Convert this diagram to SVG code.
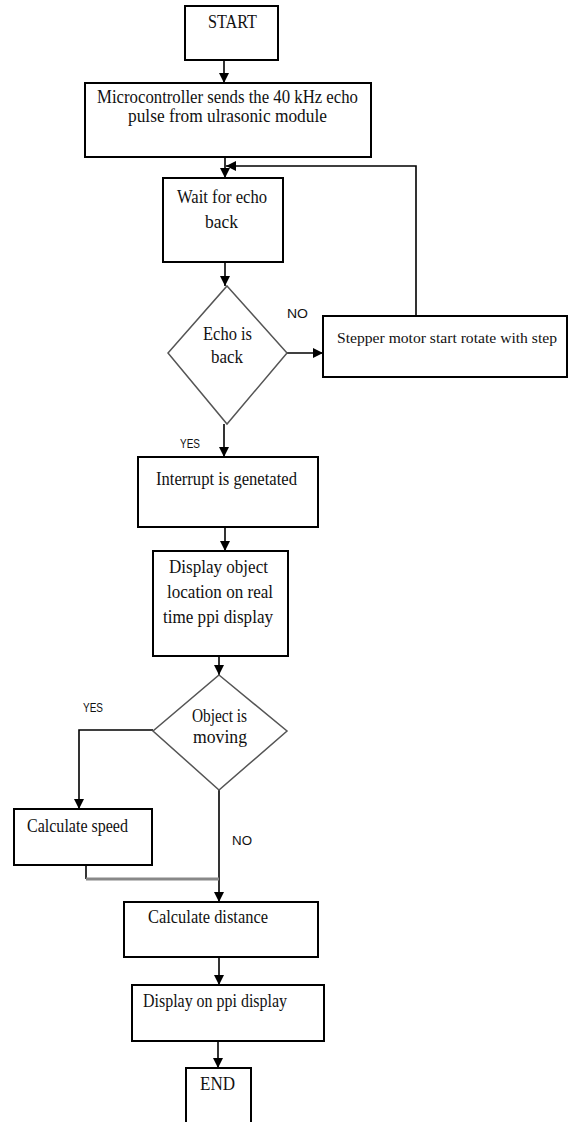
<svg xmlns="http://www.w3.org/2000/svg" width="569" height="1122" viewBox="0 0 569 1122">
<defs>
<style>
.box{fill:#fff;stroke:#000;stroke-width:2}
.dia{fill:#fff;stroke:#555;stroke-width:1.5}
.t{font-family:"Liberation Serif","Times New Roman",serif;font-size:18px;fill:#111}
.s{font-size:15px}
.l{font-family:"Liberation Sans",Arial,sans-serif;font-size:13px;fill:#111}
.c{fill:none;stroke:#000;stroke-width:1.6}
</style>
<marker id="ah" markerUnits="userSpaceOnUse" markerWidth="10" markerHeight="10" refX="10" refY="5" orient="auto" viewBox="0 0 10 10">
<path d="M0,0 L10,5 L0,10 z" fill="#000"/>
</marker>
</defs>
<rect width="569" height="1122" fill="#fff"/>
<g id="connectors">
<line class="c" x1="224" y1="60" x2="224" y2="83" marker-end="url(#ah)"/>
<line class="c" x1="225" y1="157" x2="225" y2="178" marker-end="url(#ah)"/>
<line class="c" x1="225" y1="262" x2="225" y2="286" marker-end="url(#ah)"/>
<line class="c" x1="287" y1="353" x2="323" y2="353" marker-end="url(#ah)"/>
<polyline class="c" points="416,316 416,166 226,166" marker-end="url(#ah)"/>
<line class="c" x1="224" y1="424" x2="224" y2="457" marker-end="url(#ah)"/>
<line class="c" x1="225" y1="527" x2="225" y2="551" marker-end="url(#ah)"/>
<line class="c" x1="219" y1="656" x2="219" y2="675" marker-end="url(#ah)"/>
<polyline class="c" points="153,730 79,730 79,809" marker-end="url(#ah)"/>
<line class="c" x1="219" y1="790" x2="219" y2="902" marker-end="url(#ah)"/>
<line class="c" x1="86" y1="865" x2="86" y2="879"/>
<line x1="86" y1="879" x2="219" y2="879" stroke="#888" stroke-width="3"/>
<line class="c" x1="219" y1="957" x2="219" y2="985" marker-end="url(#ah)"/>
<line class="c" x1="218" y1="1041" x2="218" y2="1068" marker-end="url(#ah)"/>
</g>
<g id="start">
<rect class="box" x="185" y="6" width="93" height="54"/>
<text class="t" x="208" y="28" textLength="49" lengthAdjust="spacingAndGlyphs">START</text>
</g>
<g id="send">
<rect class="box" x="85" y="83" width="286" height="74"/>
<text class="t" x="97" y="103" textLength="261" lengthAdjust="spacingAndGlyphs">Microcontroller sends the 40 kHz echo</text>
<text class="t" x="128" y="122" textLength="199" lengthAdjust="spacingAndGlyphs">pulse from ulrasonic module</text>
</g>
<g id="wait">
<rect class="box" x="163" y="178" width="120" height="84"/>
<text class="t" x="177" y="203" textLength="90" lengthAdjust="spacingAndGlyphs">Wait for echo</text>
<text class="t" x="205" y="228" textLength="33" lengthAdjust="spacingAndGlyphs">back</text>
</g>
<g id="echo">
<polygon class="dia" points="227,286 287,353 227,424 168,353"/>
<text class="t" x="203" y="340" textLength="49" lengthAdjust="spacingAndGlyphs">Echo is</text>
<text class="t" x="211" y="363" textLength="32" lengthAdjust="spacingAndGlyphs">back</text>
</g>
<g id="stepper">
<rect class="box" x="323" y="316" width="244" height="61"/>
<text class="t s" x="337" y="343" textLength="220" lengthAdjust="spacingAndGlyphs">Stepper motor start rotate with step</text>
</g>
<g id="interrupt">
<rect class="box" x="138" y="457" width="180" height="70"/>
<text class="t" x="156" y="485" textLength="141" lengthAdjust="spacingAndGlyphs">Interrupt is genetated</text>
</g>
<g id="display-object">
<rect class="box" x="153" y="551" width="135" height="105"/>
<text class="t" x="169" y="573" textLength="99" lengthAdjust="spacingAndGlyphs">Display object</text>
<text class="t" x="167" y="598" textLength="106" lengthAdjust="spacingAndGlyphs">location on real</text>
<text class="t" x="163" y="623" textLength="110" lengthAdjust="spacingAndGlyphs">time ppi display</text>
</g>
<g id="moving">
<polygon class="dia" points="219,675 287,731 219,790 153,731"/>
<text class="t" x="192" y="722" textLength="55" lengthAdjust="spacingAndGlyphs">Object is</text>
<text class="t" x="193" y="743" textLength="54" lengthAdjust="spacingAndGlyphs">moving</text>
</g>
<g id="speed">
<rect class="box" x="14" y="809" width="138" height="56"/>
<text class="t" x="27" y="832" textLength="101" lengthAdjust="spacingAndGlyphs">Calculate speed</text>
</g>
<g id="distance">
<rect class="box" x="124" y="902" width="194" height="55"/>
<text class="t" x="148" y="923" textLength="120" lengthAdjust="spacingAndGlyphs">Calculate distance</text>
</g>
<g id="display-ppi">
<rect class="box" x="132" y="985" width="192" height="56"/>
<text class="t" x="143" y="1007" textLength="144" lengthAdjust="spacingAndGlyphs">Display on ppi display</text>
</g>
<g id="end">
<rect class="box" x="186" y="1068" width="65" height="64"/>
<text class="t" x="200" y="1090" textLength="35" lengthAdjust="spacingAndGlyphs">END</text>
</g>
<g id="labels">
<text class="l" x="287" y="318" textLength="21" lengthAdjust="spacingAndGlyphs">NO</text>
<text class="l" x="180" y="448" textLength="20" lengthAdjust="spacingAndGlyphs">YES</text>
<text class="l" x="83" y="712" textLength="20" lengthAdjust="spacingAndGlyphs">YES</text>
<text class="l" x="232" y="845" textLength="20" lengthAdjust="spacingAndGlyphs">NO</text>
</g>
</svg>
